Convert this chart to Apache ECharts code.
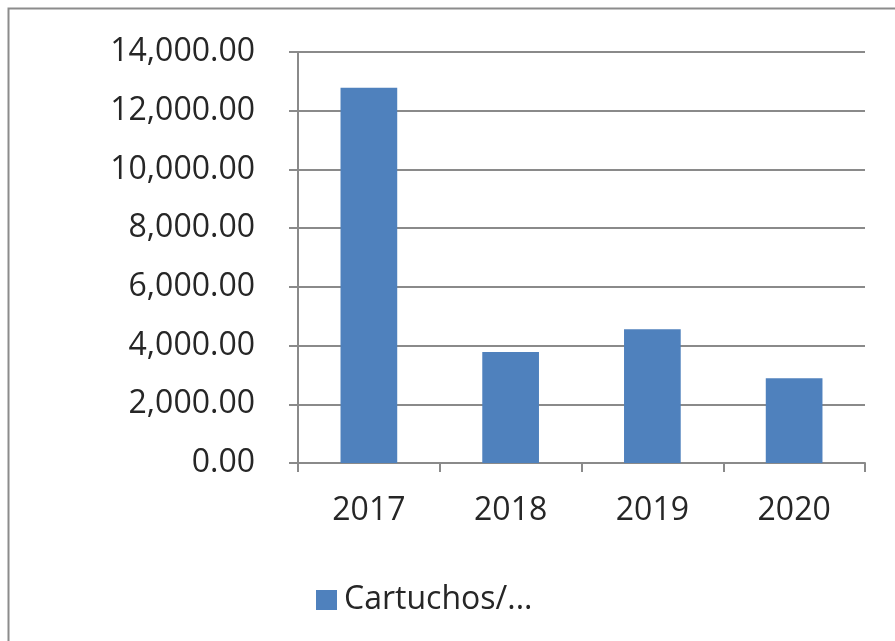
<!DOCTYPE html>
<html><head><meta charset="utf-8">
<script src="https://cdn.jsdelivr.net/npm/echarts@6/dist/echarts.min.js"></script>
<style>html,body{margin:0;padding:0;background:#fff}#c{width:895px;height:641px}</style>
</head><body><div id="c"></div>
<script>
const categories = ['2017', '2018', '2019', '2020'];
const seriesName = 'Cartuchos/...';
const values = [12780, 3780, 4560, 2890];
const yTicks = [0, 2000, 4000, 6000, 8000, 10000, 12000, 14000];

const chart = echarts.init(document.getElementById('c'));
const font = '"Open Sans", "Noto Sans", sans-serif';
chart.setOption({
  animation: false,
  backgroundColor: '#fff',
  graphic: [{
    type: 'polyline', silent: true,
    shape: { points: [[8.5, 650], [8.5, 8.5], [900, 8.5]] },
    style: { stroke: '#8c8c8c', lineWidth: 2, fill: null }
  }],
  grid: { left: 298, right: 30, top: 52, bottom: 178, containLabel: false },
  legend: {
    left: 311, top: 579,
    itemWidth: 21, itemHeight: 20, itemGap: 10,
    icon: 'rect',
    textStyle: { fontFamily: font, fontSize: 32, color: '#262626', padding: [0, 0, 0, 2] },
    data: [seriesName]
  },
  xAxis: {
    type: 'category', data: categories,
    axisLine: { lineStyle: { color: '#8a8a8a', width: 2 } },
    axisTick: { show: true, length: 9, lineStyle: { color: '#8a8a8a', width: 2 } },
    axisLabel: { fontFamily: font, fontSize: 32, color: '#262626', margin: 32 }
  },
  yAxis: {
    type: 'value', min: yTicks[0], max: yTicks[yTicks.length - 1], interval: 2000,
    axisLine: { show: true, lineStyle: { color: '#8a8a8a', width: 2 } },
    axisTick: { show: true, length: 9, lineStyle: { color: '#8a8a8a', width: 2 } },
    splitLine: { lineStyle: { color: '#8a8a8a', width: 2 } },
    axisLabel: {
      fontFamily: font, fontSize: 32, color: '#262626', margin: 43,
      formatter: v => v.toLocaleString('en-US', { minimumFractionDigits: 2, maximumFractionDigits: 2 })
    }
  },
  series: [{
    name: seriesName, type: 'bar', data: values, barWidth: '40%',
    itemStyle: { color: '#4f81bd' }
  }]
});
</script></body></html>
